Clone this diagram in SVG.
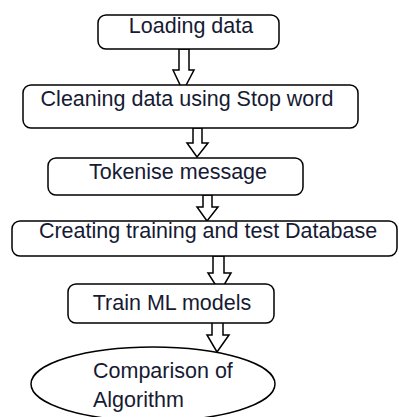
<svg xmlns="http://www.w3.org/2000/svg" width="399" height="417" viewBox="0 0 399 417">
<style>
.box{fill:#fff;stroke:#000;stroke-width:1.5}
.arr{fill:#fff;stroke:#000;stroke-width:1.5;stroke-linejoin:miter}
.t{font-family:"Liberation Sans",Arial,sans-serif;font-size:21.5px;fill:#161a33}
</style>
<rect width="399" height="417" fill="#fff"/>
<g id="connectors">
<path class="arr" d="M179,49 V70 H173 L183,91 L194,70 H189 V49 Z"/>
<path class="arr" d="M193,128 V143 H187 L197,157 L208,143 H202 V128 Z"/>
<path class="arr" d="M203,195 V207 H197 L207,221 L218,207 H212 V195 Z"/>
<path class="arr" d="M213,256 V273 H208 L220,292 L231,273 H224 V256 Z"/>
<path class="arr" d="M212,318 V335 H207 L217,352 L229,335 H223 V318 Z"/>
</g>
<g id="n1"><rect class="box" x="98" y="15" width="181" height="34" rx="8"/><text class="t" x="191" y="33" text-anchor="middle">Loading data</text></g>
<g id="n2"><rect class="box" x="23" y="85" width="335" height="43" rx="8"/><text class="t" x="187" y="106" text-anchor="middle">Cleaning data using Stop word</text></g>
<g id="n3"><rect class="box" x="48" y="158" width="255" height="37" rx="8"/><text class="t" x="178" y="179" text-anchor="middle">Tokenise message</text></g>
<g id="n4"><rect class="box" x="12" y="221" width="385" height="35" rx="8"/><text class="t" x="208" y="238" text-anchor="middle">Creating training and test Database</text></g>
<g id="n5"><rect class="box" x="68" y="284" width="206" height="39" rx="8"/><text class="t" x="172" y="310" text-anchor="middle">Train ML models</text></g>
<g id="n6"><ellipse class="box" cx="153" cy="384" rx="122" ry="37"/><text class="t" x="93" y="378">Comparison of</text><text class="t" x="93" y="407">Algorithm</text></g>
</svg>
